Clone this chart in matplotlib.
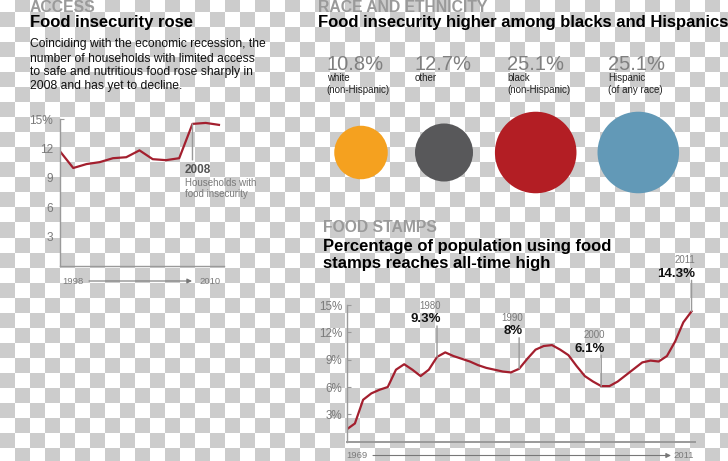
import numpy as np
import matplotlib
matplotlib.use('Agg')
import matplotlib.pyplot as plt

plt.rcParams['font.family'] = ['Liberation Sans', 'DejaVu Sans']

W, H, DPI = 728, 461, 100

# ---------------- data ----------------
insec_years = list(range(1998, 2011))
insec_values = [11.7, 10.0, 10.4, 10.6, 11.0, 11.1, 11.8, 10.9, 10.8, 11.0, 14.5, 14.6, 14.4]
insec_ticks = [3, 6, 9, 12, 15]
insec_ticklabels = ['3', '6', '9', '12', '15%']

race_values = [10.8, 12.7, 25.1, 25.1]
race_pct_labels = ['10.8%', '12.7%', '25.1%', '25.1%']
race_groups = ['white\n(non-Hispanic)', 'other', 'black\n(non-Hispanic)', 'Hispanic\n(of any race)']
race_colors = ['#f5a11f', '#58585a', '#b31e24', '#6299b7']

stamp_years = list(range(1969, 2012))
stamp_values = [1.35, 2.0, 4.6, 5.3, 5.7, 6.0, 7.9, 8.5, 7.9, 7.2, 7.9, 9.3, 9.8, 9.4, 9.1,
                8.8, 8.4, 8.1, 7.9, 7.7, 7.6, 8.0, 9.1, 10.1, 10.5, 10.6, 10.1, 9.5, 8.3,
                7.2, 6.6, 6.1, 6.1, 6.6, 7.3, 8.0, 8.7, 8.9, 8.8, 9.4, 11.0, 13.1, 14.3]
stamp_ticks = [3, 6, 9, 12, 15]
stamp_ticklabels = ['3%', '6%', '9%', '12%', '15%']
stamp_callout_years = [1980, 1990, 2000, 2011]
stamp_callout_labels = ['9.3%', '8%', '6.1%', '14.3%']

# ---------------- style ----------------
LINE = '#a31f2e'
AXC = '#9a9a9a'
TXTG = '#7a7a7a'
HEADG = '#9a9a9a'

fig = plt.figure(figsize=(W / DPI, H / DPI), dpi=DPI)

def frac(x0, y0, x1, y1):
    return [x0 / W, 1 - y1 / H, (x1 - x0) / W, (y1 - y0) / H]

# checkerboard background (transparent png look)
bg = fig.add_axes([0, 0, 1, 1], zorder=-2)
ys, xs = np.mgrid[0:H, 0:W] + 0.5
gray = ((np.floor(xs / 15) + np.floor((ys - 13.3) / 15)) % 2) == 0
img = np.where(gray, 204, 255).astype(float)
bg.imshow(img, cmap='gray', vmin=0, vmax=255, extent=(0, W, H, 0), aspect='auto', interpolation='nearest')
bg.axis('off')

# overlay in pixel coordinates
ov = fig.add_axes([0, 0, 1, 1], zorder=1)
ov.set_xlim(0, W)
ov.set_ylim(H, 0)
ov.axis('off')

def t(x, y, s, size, color='#111111', bold=False, ha='left'):
    ov.text(x, y, s, fontsize=size, color=color, fontweight='bold' if bold else 'normal',
            ha=ha, va='baseline')

# ---------- left block ----------
t(30, 11.5, 'ACCESS', 11.3, HEADG, True)
t(30, 27.5, 'Food insecurity rose', 12, '#000000', True)
para = ['Coinciding with the economic recession, the',
        'number of households with limited access',
        'to safe and nutritious food rose sharply in',
        '2008 and has yet to decline.']
for i, line in enumerate(para):
    t(30, 47.5 + 14 * i, line, 8.7, '#111111')

ax1 = fig.add_axes(frac(60, 119, 224, 266), zorder=2)
ax1.patch.set_alpha(0)
ax1.plot(insec_years, insec_values, color=LINE, lw=1.6, solid_joinstyle='round')
ax1.set_xlim(insec_years[0], insec_years[-1] + 0.38)
ax1.set_ylim(0, 15)
for s in ['top', 'right']:
    ax1.spines[s].set_visible(False)
for s in ['left', 'bottom']:
    ax1.spines[s].set_color(AXC)
    ax1.spines[s].set_linewidth(1)
ax1.set_xticks([])
ax1.set_yticks(insec_ticks)
ax1.set_yticklabels(insec_ticklabels)
ax1.tick_params(axis='y', direction='in', length=0, pad=5, labelsize=8.6, labelcolor=TXTG, color=AXC)
ax1.yaxis.get_major_ticks()[-1].tick1line.set_markersize(3)

i08 = insec_years.index(2008)
ax1.annotate('', xy=(2008, insec_values[i08]), xytext=(0, -36), textcoords='offset pixels',
             arrowprops=dict(arrowstyle='-', color=AXC, lw=1, shrinkA=0, shrinkB=0))
ax1.annotate('2008', xy=(2008, insec_values[i08]), xytext=(-7.5, -48.7), textcoords='offset pixels',
             ha='left', va='baseline', fontsize=8.5, fontweight='bold', color='#555555')
ax1.annotate('Households with', xy=(2008, insec_values[i08]), xytext=(-7.5, -62), textcoords='offset pixels',
             ha='left', va='baseline', fontsize=7, color=TXTG)
ax1.annotate('food insecurity', xy=(2008, insec_values[i08]), xytext=(-7.5, -73.5), textcoords='offset pixels',
             ha='left', va='baseline', fontsize=7, color=TXTG)

t(62.7, 284.3, str(insec_years[0]), 6.8, TXTG)
t(199, 284.3, str(insec_years[-1]), 6.8, TXTG)
ov.annotate('', xy=(192, 281), xytext=(89, 281),
            arrowprops=dict(arrowstyle='-|>', color='#777777', lw=0.8, mutation_scale=7,
                            shrinkA=0, shrinkB=0))

# ---------- race block ----------
t(318, 12, 'RACE AND ETHNICITY', 11.3, HEADG, True)
t(318, 27.5, 'Food insecurity higher among blacks and Hispanics', 12, '#000000', True)
label_x = [326.7, 415, 507.3, 608.3]
circle_x = [361, 444, 535.7, 638.3]
for lx, pct, grp in zip(label_x, race_pct_labels, race_groups):
    t(lx, 69.5, pct, 14.5, '#808080')
    for j, g in enumerate(grp.split('\n')):
        t(lx, 81.3 + 12 * j, g, 7, '#222222')
ov.scatter(circle_x, [152.5] * len(race_values), s=np.array(race_values) * 137.4,
           c=race_colors, linewidths=0, zorder=3)

# ---------- food stamps block ----------
t(323, 231.7, 'FOOD STAMPS', 11.3, HEADG, True)
t(323, 251, 'Percentage of population using food', 12, '#000000', True)
t(323, 268, 'stamps reaches all-time high', 12, '#000000', True)

ax2 = fig.add_axes(frac(346.7, 305, 695, 441.7), zorder=2)
ax2.patch.set_alpha(0)
ax2.plot(stamp_years, stamp_values, color=LINE, lw=1.6, solid_joinstyle='round')
ax2.set_xlim(stamp_years[0], stamp_years[-1] + 0.42)
ax2.set_ylim(0, 15)
for s in ['top', 'right']:
    ax2.spines[s].set_visible(False)
for s in ['left', 'bottom']:
    ax2.spines[s].set_color(AXC)
    ax2.spines[s].set_linewidth(1)
ax2.spines['bottom'].set_linewidth(1.4)
ax2.set_xticks([])
ax2.set_yticks(stamp_ticks)
ax2.set_yticklabels(stamp_ticklabels)
ax2.tick_params(axis='y', direction='in', length=3, width=0.8, pad=3.2, labelsize=8.4,
                labelcolor=TXTG, color=AXC)

for yr, lab in zip(stamp_callout_years, stamp_callout_labels):
    v = stamp_values[stamp_years.index(yr)]
    ax2.annotate('', xy=(yr, v), xytext=(0, 31), textcoords='offset pixels',
                 arrowprops=dict(arrowstyle='-', color=AXC, lw=1, shrinkA=0, shrinkB=0),
                 annotation_clip=False)
    ax2.annotate(lab, xy=(yr, v), xytext=(3.5, 34.5), textcoords='offset pixels',
                 ha='right', va='baseline', fontsize=9.5, fontweight='bold', color='#111111',
                 annotation_clip=False)
    ax2.annotate(str(yr), xy=(yr, v), xytext=(3.5, 48), textcoords='offset pixels',
                 ha='right', va='baseline', fontsize=6.9, color=TXTG, annotation_clip=False)

t(346.7, 458.3, str(stamp_years[0]), 6.8, TXTG)
t(673, 458.3, str(stamp_years[-1]), 6.8, TXTG)
ov.annotate('', xy=(671, 455.5), xytext=(373, 455.5),
            arrowprops=dict(arrowstyle='-|>', color='#777777', lw=0.8, mutation_scale=7,
                            shrinkA=0, shrinkB=0))

fig.savefig('out.png', dpi=DPI)
